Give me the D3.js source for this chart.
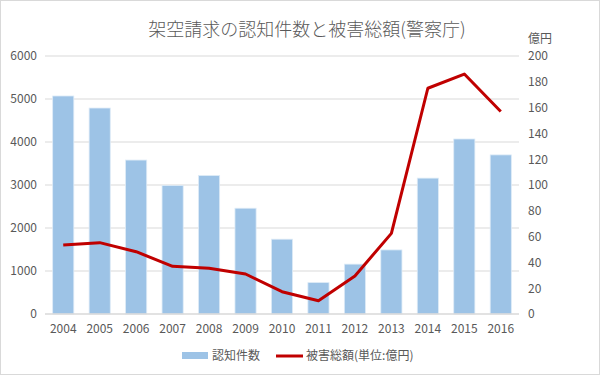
<!DOCTYPE html>
<html>
<head>
<meta charset="utf-8">
<script src="https://cdn.jsdelivr.net/npm/d3@7"></script>
<style>
  body { margin: 0; background: #fff; }
  svg text { font-family: "Noto Sans CJK JP", "Noto Sans", sans-serif; fill: #595959; }
</style>
</head>
<body>
<svg id="chart" width="600" height="375"></svg>
<script>
// data
const years = ["2004","2005","2006","2007","2008","2009","2010","2011","2012","2013","2014","2015","2016"];
const counts = [5070, 4790, 3580, 2990, 3220, 2460, 1740, 730, 1160, 1490, 3160, 4070, 3700];
const losses = [53.5, 55.3, 48.3, 37, 35.4, 31, 17.3, 10.3, 29.5, 62.5, 175, 186, 157];
const leftTicks = [0, 1000, 2000, 3000, 4000, 5000, 6000];
const rightTicks = [0, 20, 40, 60, 80, 100, 120, 140, 160, 180, 200];

const svg = d3.select("#chart");
const margin = { top: 56, right: 81, bottom: 61, left: 45 };
const width = 600 - margin.left - margin.right;
const height = 375 - margin.top - margin.bottom;

// outer frame
svg.append("rect")
    .attr("x", 0.5).attr("y", 0.5)
    .attr("width", 599).attr("height", 374)
    .attr("fill", "#fff")
    .attr("stroke", "#d9d9d9");

svg.append("text")
    .attr("x", 307).attr("y", 36)
    .attr("text-anchor", "middle")
    .style("font-size", "18px")
    .style("font-weight", 300)
    .text("架空請求の認知件数と被害総額(警察庁)");

const g = svg.append("g")
    .attr("transform", "translate(" + margin.left + "," + margin.top + ")");

const x = d3.scaleBand()
    .domain(years)
    .range([0, width])
    .paddingInner(0.42)
    .paddingOuter(0.21);

const yL = d3.scaleLinear().domain([0, 6000]).range([height, 0]);
const yR = d3.scaleLinear().domain([0, 200]).range([height, 0]);

// gridlines
g.selectAll(".grid")
    .data(leftTicks.slice(1))
    .enter().append("line")
    .attr("class", "grid")
    .attr("x1", 0).attr("x2", width)
    .attr("y1", d => yL(d)).attr("y2", d => yL(d))
    .attr("stroke", "#d9d9d9")
    .attr("stroke-width", 1);

// left axis
const axL = g.append("g")
    .call(d3.axisLeft(yL).tickValues(leftTicks).tickFormat(d3.format("d")).tickSize(0).tickPadding(8));
axL.select(".domain").remove();
axL.selectAll("text").style("font-size", "12px");

// right axis
const axR = g.append("g")
    .attr("transform", "translate(" + width + ",0)")
    .call(d3.axisRight(yR).tickValues(rightTicks).tickSize(0).tickPadding(9));
axR.select(".domain").remove();
axR.selectAll("text").style("font-size", "12px").attr("text-anchor", "start");

svg.append("text")
    .attr("x", margin.left + width + 9).attr("y", 43)
    .style("font-size", "12px")
    .text("億円");

// bars
g.selectAll(".bar")
    .data(years)
    .enter().append("rect")
    .attr("class", "bar")
    .attr("x", (d, i) => x(d))
    .attr("y", (d, i) => yL(counts[i]))
    .attr("width", x.bandwidth())
    .attr("height", (d, i) => height - yL(counts[i]))
    .attr("fill", "#9dc3e6")
    .attr("stroke", "#deebf7")
    .attr("stroke-width", 0.8);

// baseline
g.append("line")
    .attr("x1", 0).attr("x2", width)
    .attr("y1", height).attr("y2", height)
    .attr("stroke", "#d9d9d9")
    .attr("stroke-width", 1.5);

// x axis labels
const axX = g.append("g")
    .attr("transform", "translate(0," + height + ")")
    .call(d3.axisBottom(x).tickSize(0).tickPadding(10));
axX.select(".domain").remove();
axX.selectAll("text").style("font-size", "12px");

// loss line
const line = d3.line()
    .x((d, i) => x(years[i]) + x.bandwidth() / 2)
    .y(d => yR(d));

g.append("path")
    .datum(losses)
    .attr("d", line)
    .attr("fill", "none")
    .attr("stroke", "#c00000")
    .attr("stroke-width", 3)
    .attr("stroke-linejoin", "round");

// legend
const lg = svg.append("g").attr("transform", "translate(0,356)");
lg.append("rect")
    .attr("x", 182).attr("y", -4)
    .attr("width", 26).attr("height", 7)
    .attr("fill", "#9dc3e6");
lg.append("text")
    .attr("x", 212).attr("y", 4)
    .style("font-size", "12px")
    .text("認知件数");
lg.append("line")
    .attr("x1", 276).attr("x2", 303)
    .attr("y1", 0).attr("y2", 0)
    .attr("stroke", "#c00000")
    .attr("stroke-width", 3);
lg.append("text")
    .attr("x", 306).attr("y", 4)
    .style("font-size", "12px")
    .text("被害総額(単位:億円)");
</script>
</body>
</html>
